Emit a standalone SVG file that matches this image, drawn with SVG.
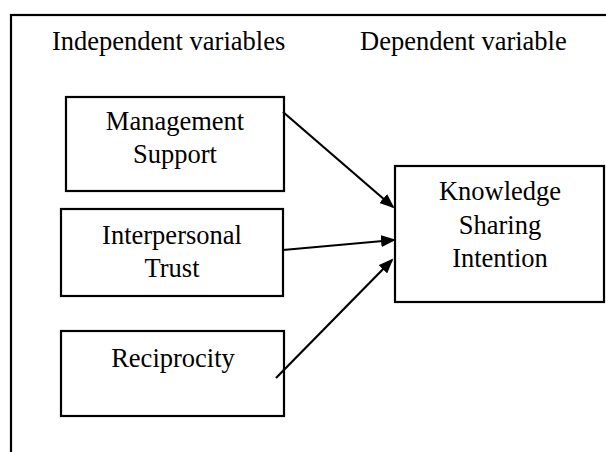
<svg xmlns="http://www.w3.org/2000/svg" width="606" height="452" viewBox="0 0 606 452">
  <style>
    .frame { fill: none; stroke: #000; stroke-width: 2.2; }
    .box { fill: #fff; stroke: #000; stroke-width: 2.2; }
    .label { font-family: "Liberation Serif", "Times New Roman", serif; font-size: 26.5px; fill: #000; }
    .mid { text-anchor: middle; }
    .link { stroke: #000; stroke-width: 2.2; fill: none; marker-end: url(#head); }
  </style>
  <defs>
    <marker id="head" markerUnits="userSpaceOnUse" markerWidth="16" markerHeight="12" refX="13" refY="6" orient="auto">
      <path d="M0,0 L15,6 L0,12 z" fill="#000"/>
    </marker>
  </defs>

  <rect width="606" height="452" fill="#fff"/>

  <!-- outer frame, running off the right and bottom edges -->
  <rect class="frame" x="11" y="15" width="640" height="470"/>

  <g id="headings">
    <text class="label" x="52" y="50">Independent variables</text>
    <text class="label" x="360" y="50">Dependent variable</text>
  </g>

  <g id="management-support">
    <rect class="box" x="66" y="97" width="218" height="94"/>
    <text class="label mid" x="175" y="130">Management</text>
    <text class="label mid" x="175" y="163">Support</text>
  </g>

  <g id="interpersonal-trust">
    <rect class="box" x="61" y="209" width="222" height="87"/>
    <text class="label mid" x="172" y="244">Interpersonal</text>
    <text class="label mid" x="172" y="277">Trust</text>
  </g>

  <g id="reciprocity">
    <rect class="box" x="61" y="331" width="223" height="85"/>
    <text class="label mid" x="173" y="367">Reciprocity</text>
  </g>

  <g id="knowledge-sharing-intention">
    <rect class="box" x="395" y="166" width="209" height="136"/>
    <text class="label mid" x="500" y="200">Knowledge</text>
    <text class="label mid" x="500" y="234">Sharing</text>
    <text class="label mid" x="500" y="267">Intention</text>
  </g>

  <g id="connectors">
    <line class="link" x1="283" y1="112" x2="393" y2="207"/>
    <line class="link" x1="283" y1="250" x2="394" y2="240"/>
    <line class="link" x1="276" y1="378" x2="392" y2="260"/>
  </g>
</svg>
